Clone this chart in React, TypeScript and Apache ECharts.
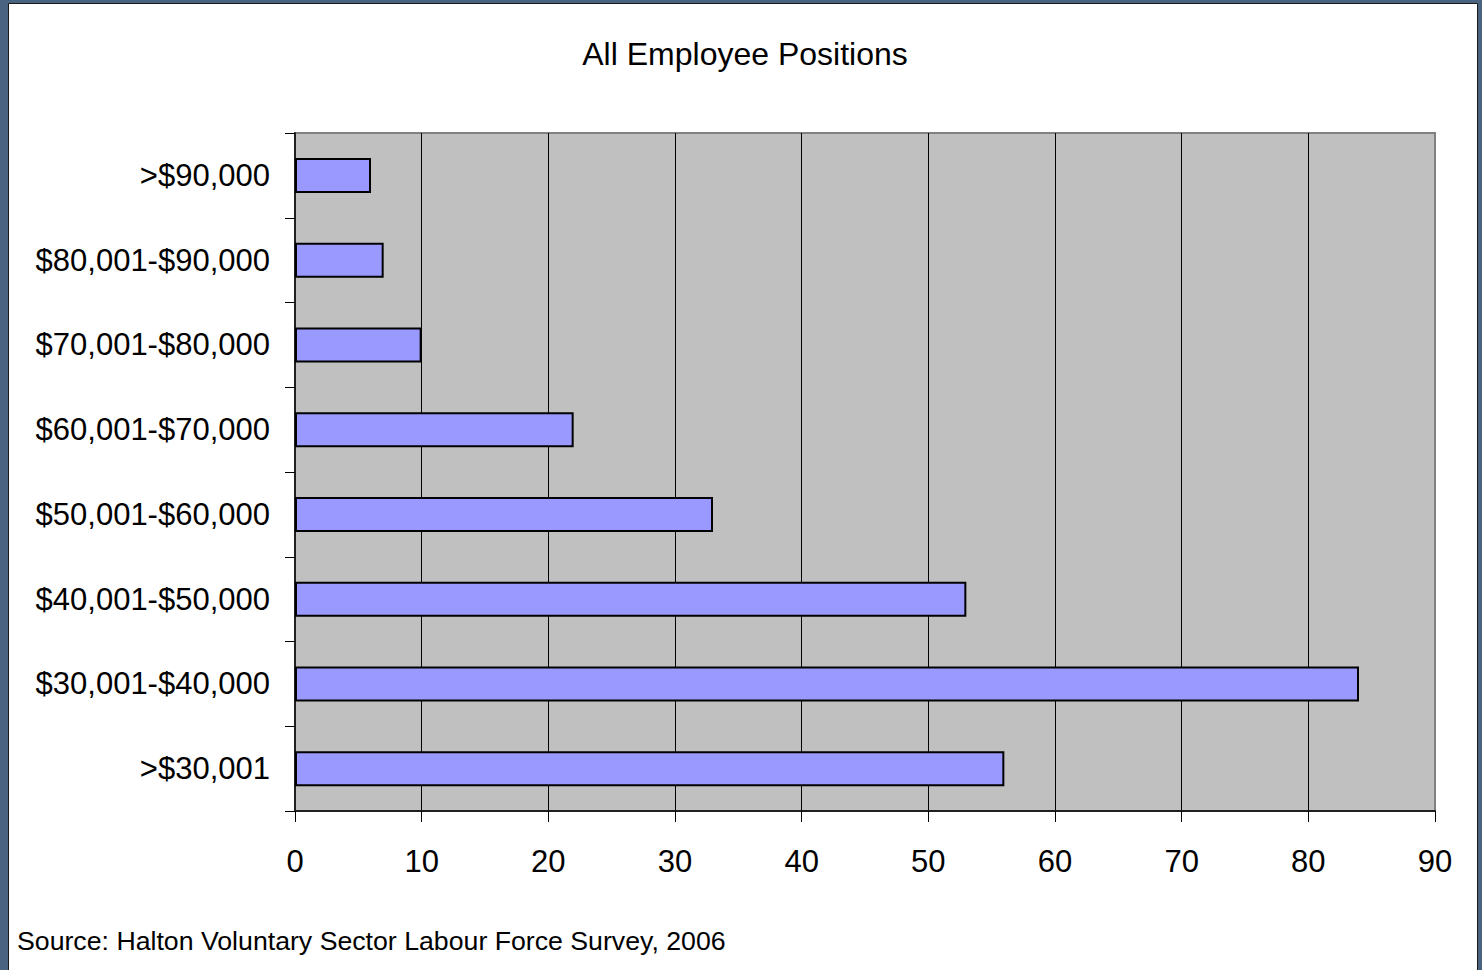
import React, { useEffect, useRef } from "react";
import * as echarts from "echarts";

const categories = [
  ">$30,001",
  "$30,001-$40,000",
  "$40,001-$50,000",
  "$50,001-$60,000",
  "$60,001-$70,000",
  "$70,001-$80,000",
  "$80,001-$90,000",
  ">$90,000",
];
const values = [56, 84, 53, 33, 22, 10, 7, 6];
const titleText = "All Employee Positions";
const sourceText = "Source: Halton Voluntary Sector Labour Force Survey, 2006";
const xMin = 0;
const xMax = 90;
const xInterval = 10;

const FONT = "'Liberation Sans', Arial, sans-serif";

export default function App() {
  const ref = useRef<HTMLDivElement>(null);
  useEffect(() => {
    if (!ref.current) return;
    const chart = echarts.init(ref.current, null, { renderer: "svg" });
    const gridLeft = 295;
    const gridTop = 133;
    const gridRight = 1482 - 1435;
    const gridBottom = 970 - 811;
    const splitColors = [] as string[];
    for (let v = xMin; v <= xMax; v += xInterval) splitColors.push(v === xMax ? "#808080" : "#000000");
    chart.setOption({
      animation: false,
      backgroundColor: "#4a6380",
      title: {
        text: titleText,
        left: 740,
        top: 33,
        textAlign: "center",
        textStyle: { fontFamily: FONT, fontSize: 32, fontWeight: "normal", color: "#000" },
      },
      graphic: [
        {
          type: "rect",
          z: -10,
          silent: true,
          shape: { x: 8.5, y: 3.5, width: 1469, height: 980 },
          style: { fill: "#ffffff", stroke: "#1a1a1a", lineWidth: 1 },
        },
        {
          type: "text",
          x: 17,
          y: 941,
          style: {
            text: sourceText,
            fontFamily: FONT,
            fontSize: 26.7,
            fill: "#000",
            textVerticalAlign: "middle",
            textAlign: "left",
          },
        },
      ],
      grid: {
        left: gridLeft,
        top: gridTop,
        right: gridRight,
        bottom: gridBottom,
        show: true,
        backgroundColor: "#c0c0c0",
        borderColor: "#808080",
        borderWidth: 2,
        containLabel: false,
        outerBoundsMode: "none",
      },
      xAxis: {
        type: "value",
        min: xMin,
        max: xMax,
        interval: xInterval,
        axisLine: { show: true, onZero: false, lineStyle: { color: "#202020", width: 2 } },
        axisTick: { show: true, length: 11, lineStyle: { color: "#000", width: 1 } },
        axisLabel: { margin: 35, fontFamily: FONT, fontSize: 31, color: "#000" },
        splitLine: { show: true, lineStyle: { color: splitColors, width: 1 } },
      },
      yAxis: {
        type: "category",
        data: categories,
        axisLine: { show: true, lineStyle: { color: "#202020", width: 2 } },
        axisTick: { show: true, length: 10, alignWithLabel: false, lineStyle: { color: "#000", width: 1 } },
        axisLabel: { margin: 25, fontFamily: FONT, fontSize: 31, color: "#000" },
        splitLine: { show: false },
      },
      series: [
        {
          type: "bar",
          data: values,
          barWidth: 35,
          itemStyle: { color: "#9999ff", borderColor: "#000", borderWidth: 2 },
        },
      ],
    });
    return () => chart.dispose();
  }, []);
  return (
    <div
      ref={ref}
      style={{ position: "fixed", left: 0, top: 0, width: 1482, height: 970 }}
    />
  );
}
